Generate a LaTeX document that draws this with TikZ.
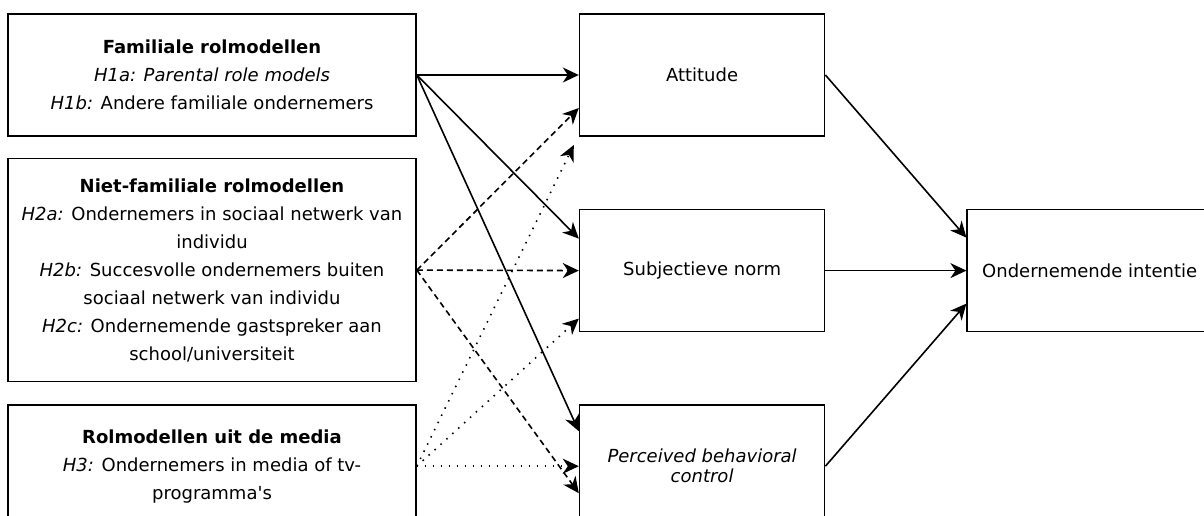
\documentclass[tikz,border=0pt]{standalone}
\usepackage{fontspec}
\setmainfont{DejaVu Sans}
\usetikzlibrary{positioning,arrows.meta}
\tikzstyle{model} = [rectangle, draw, line width=1.6pt, minimum width=408pt,
    minimum height=122pt, align=center, font=\fontsize{18}{28}\selectfont]
\tikzstyle{construct} = [rectangle, draw, line width=1.6pt, minimum width=245pt,
    minimum height=122pt, align=center, font=\fontsize{18}{20}\selectfont]
\tikzset{>={Stealth[length=16pt 0,width=15pt 0,inset=5pt 0]}}
\tikzstyle{line} = [draw, line width=1.6pt, ->]
\tikzstyle{dashline} = [line, dash pattern=on 6pt off 4pt]
\tikzstyle{dotline} = [line, dash pattern=on 1.5pt off 6.5pt]

\begin{document}
\begin{tikzpicture}
		\useasboundingbox (0,0) rectangle (1204pt,-516pt);
		\node [model] (fam) at (212pt,-75pt) {\textbf{Familiale rolmodellen}\\
			\textit{H1a: Parental role models}\\
			\textit{H1b:} Andere familiale ondernemers};
		\node [model, minimum height=223pt, below=21pt of fam] (niet) {\textbf{Niet-familiale rolmodellen}\\
			\textit{H2a:} Ondernemers in sociaal netwerk van\\
			individu\\
			\textit{H2b:} Succesvolle ondernemers buiten\\
			sociaal netwerk van individu\\
			\textit{H2c:} Ondernemende gastspreker aan\\
			school/universiteit};
		\node [model, below=22pt of niet] (media) {\textbf{Rolmodellen uit de media}\\
			\textit{H3:} Ondernemers in media of tv-\\
			programma\textquotesingle s};
		\node [construct, right=162pt of fam] (att) {Attitude};
		\node [construct, below=72pt of att] (sn) {Subjectieve norm};
		\node [construct, below=72pt of sn] (pbc) {\textit{Perceived behavioral}\\\textit{control}};
		\node [construct, right=141pt of sn] (int) {Ondernemende intentie};
		\coordinate (gap) at ([xshift=-5pt,yshift=-70pt]att.west);
		
		\path [line] (fam.east) -- (att.west);
		\path [line] (fam.east) -- ([yshift=32pt]sn.west);
		\path [line] (fam.east) -- ([yshift=35pt]pbc.west);
		\path [dashline] (niet.east) -- ([yshift=-33pt]att.west);
		\path [dashline] (niet.east) -- (sn.west);
		\path [dashline] (niet.east) -- ([yshift=-27pt]pbc.west);
		\path [dotline] (media.east) -- (gap);
		\path [dotline] (media.east) -- ([yshift=-48pt]sn.west);
		\path [dotline] (media.east) -- (pbc.west);
		\path [line] (att.east) -- ([yshift=33pt]int.west);
		\path [line] (sn.east) -- (int.west);
		\path [line] (pbc.east) -- ([yshift=-33pt]int.west);
	\end{tikzpicture}
\end{document}
